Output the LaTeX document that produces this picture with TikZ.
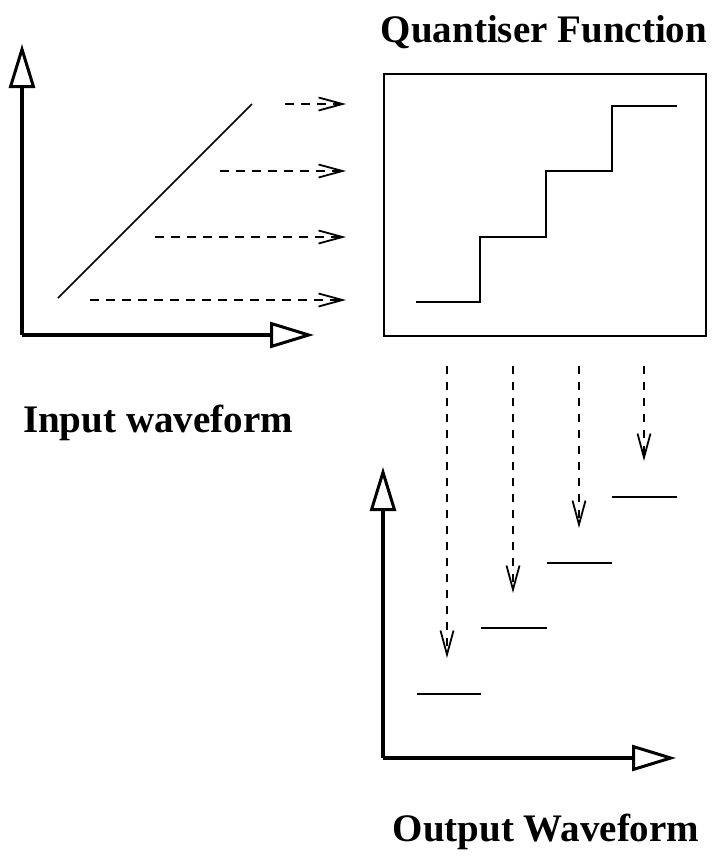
\documentclass[tikz,border=0pt]{standalone}
\usepackage{fontspec}
\setmainfont{Liberation Serif}
\usetikzlibrary{arrows.meta}
\begin{document}
\begin{tikzpicture}[x=1pt,y=-1pt,
  axis/.style={line width=3.4pt,-{Triangle[open,length=44pt,width=26pt,line width=3pt]}},
  thin/.style={line width=1.6pt},
  dasharrow/.style={line width=2pt,dash pattern=on 9pt off 7pt,-{Straight Barb[length=24pt,width=13pt,line width=1.8pt]}},
  vdasharrow/.style={line width=2pt,dash pattern=on 8pt off 8pt,-{Straight Barb[length=24pt,width=13pt,line width=1.8pt]}},
  lbl/.style={font=\fontsize{39}{44}\selectfont\bfseries, inner sep=0pt}]
\useasboundingbox (0,0) rectangle (713,863);

% Titles
\node[lbl] (qtitle) at (544,32) {Quantiser Function};
\node[lbl] (intitle) at (158,423) {Input waveform};
\node[lbl] (outtitle) at (546,832) {Output Waveform};

% Input axes
\coordinate (io) at (22,335);
\coordinate (iy) at (22,44);
\coordinate (ix) at (314,335);
\draw[axis] (io) -- (iy);
\draw[axis] (io) -- (ix);
\coordinate (ra) at (58,298);
\coordinate (rb) at (252,104);
\draw[thin] (ra) -- (rb);

% Horizontal dashed arrows
\coordinate (h1s) at (285,104); \coordinate (h1e) at (346,104);
\coordinate (h2s) at (220,171); \coordinate (h2e) at (346,171);
\coordinate (h3s) at (155,237); \coordinate (h3e) at (346,237);
\coordinate (h4s) at (90,300);  \coordinate (h4e) at (346,300);
\draw[dasharrow] (h1s) -- (h1e);
\draw[dasharrow] (h2s) -- (h2e);
\draw[dasharrow] (h3s) -- (h3e);
\draw[dasharrow] (h4s) -- (h4e);

% Quantiser box
\node[draw, line width=1.8pt, minimum width=322pt, minimum height=262pt, inner sep=0pt, anchor=north west] (qbox) at (383,73) {};
\coordinate (s0) at (416,302);
\coordinate (s1) at (480,302);
\coordinate (s2) at (480,237);
\coordinate (s3) at (546,237);
\coordinate (s4) at (546,171);
\coordinate (s5) at (612,171);
\coordinate (s6) at (612,106);
\coordinate (s7) at (677,106);
\draw[thin] (s0) -- (s1) -- (s2) -- (s3) -- (s4) -- (s5) -- (s6) -- (s7);

% Vertical dashed arrows
\coordinate (v1s) at (447,366); \coordinate (v1e) at (447,658);
\coordinate (v2s) at (513,366); \coordinate (v2e) at (513,593);
\coordinate (v3s) at (579,366); \coordinate (v3e) at (579,528);
\coordinate (v4s) at (644,366); \coordinate (v4e) at (644,461);
\draw[vdasharrow] (v1s) -- (v1e);
\draw[vdasharrow] (v2s) -- (v2e);
\draw[vdasharrow] (v3s) -- (v3e);
\draw[vdasharrow] (v4s) -- (v4e);

% Output axes
\coordinate (oo) at (383,758);
\coordinate (oy) at (383,467);
\coordinate (ox) at (676,758);
\draw[axis] (oo) -- (oy);
\draw[axis] (oo) -- (ox);

% Output levels
\coordinate (l1a) at (417,694); \coordinate (l1b) at (481,694);
\coordinate (l2a) at (481,628); \coordinate (l2b) at (547,628);
\coordinate (l3a) at (547,563); \coordinate (l3b) at (612,563);
\coordinate (l4a) at (612,497); \coordinate (l4b) at (677,497);
\draw[thin] (l1a) -- (l1b);
\draw[thin] (l2a) -- (l2b);
\draw[thin] (l3a) -- (l3b);
\draw[thin] (l4a) -- (l4b);
\end{tikzpicture}
\end{document}
